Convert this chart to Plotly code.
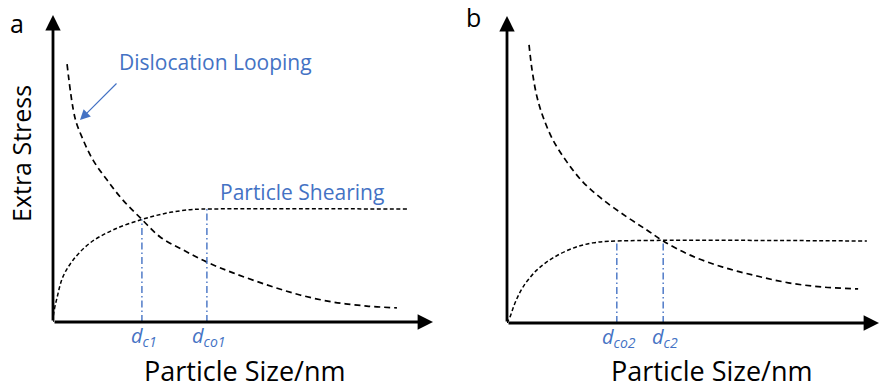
import plotly.graph_objects as go

W, H = 880, 392
BLUE = "#4472C4"
FONT = "Open Sans"

# ---- panel a: strengthening mechanisms vs particle size ----
loop_a_x = [0.37, 0.58, 0.76, 1.05, 1.42, 1.84, 2.34, 2.82, 3.42, 4.05, 4.74, 5.63, 6.50, 7.37, 8.26, 9.05]
loop_a_y = [8.40, 6.64, 6.03, 5.28, 4.63, 3.97, 3.34, 2.77, 2.35, 1.95, 1.60, 1.21, 0.88, 0.65, 0.52, 0.46]
shear_a_x = [0.0, 0.02, 0.11, 0.26, 0.53, 0.97, 1.58, 2.34, 3.00, 3.61, 4.05, 9.32]
shear_a_y = [0.0, 0.30, 0.81, 1.47, 2.02, 2.57, 3.00, 3.34, 3.55, 3.66, 3.68, 3.68]
crit_a = [2.34, 4.05]          # d_c1, d_co1
crit_a_y = [3.34, 3.68]
crit_a_lbl = ["<i>d<sub>c1</sub></i>", "<i>d<sub>co1</sub></i>"]

# ---- panel b ----
loop_b_x = [0.58, 0.66, 0.79, 0.95, 1.21, 1.58, 2.00, 2.53, 3.16, 3.68, 4.11, 4.82, 5.68, 6.58, 7.45, 8.32, 9.24]
loop_b_y = [9.06, 8.24, 7.36, 6.71, 5.96, 5.24, 4.59, 4.01, 3.45, 3.03, 2.67, 2.21, 1.82, 1.53, 1.30, 1.17, 1.11]
shear_b_x = [0.0, 0.03, 0.08, 0.21, 0.42, 0.79, 1.21, 1.74, 2.26, 2.89, 9.47]
shear_b_y = [0.0, 0.07, 0.20, 0.65, 1.17, 1.73, 2.12, 2.44, 2.61, 2.67, 2.67]
crit_b = [2.89, 4.11]          # d_co2, d_c2
crit_b_y = [2.67, 2.67]
crit_b_lbl = ["<i>d<sub>co2</sub></i>", "<i>d<sub>c2</sub></i>"]

x_title = "Particle Size/nm"
y_title = "Extra Stress"

# axis placement in pixels (origin and arrow tips)
PANELS = {
    "a": dict(x0=53, x1=433, y0=322, y1=15, xr=10.0),
    "b": dict(x0=507, x1=879, y0=323, y1=16, xr=372 / 38),
}

def px(v):
    return v / W

def py(v):
    return 1 - v / H

fig = go.Figure()
annotations = []

def add_panel(key, xa, ya, lx, ly, sx, sy, cx, cy, clbl):
    p = PANELS[key]
    xref, yref = xa.replace("axis", ""), ya.replace("axis", "")
    fig.add_trace(go.Scatter(x=lx, y=ly, mode="lines", line_shape="spline",
                             line=dict(color="black", width=1.7, dash="6px,4px"),
                             xaxis=xref, yaxis=yref, hoverinfo="skip"))
    fig.add_trace(go.Scatter(x=sx, y=sy, mode="lines", line_shape="spline",
                             line=dict(color="black", width=1.5, dash="4px,2.5px"),
                             xaxis=xref, yaxis=yref, hoverinfo="skip"))
    for xv, yv, lbl in zip(cx, cy, clbl):
        fig.add_trace(go.Scatter(x=[xv, xv], y=[0, yv], mode="lines",
                                 line=dict(color=BLUE, width=1.4, dash="7px,3px,1.5px,3px"),
                                 xaxis=xref, yaxis=yref, hoverinfo="skip"))
        annotations.append(dict(x=xv, y=0, xref=xref, yref=yref, text=lbl,
                                showarrow=False, xanchor="center", yanchor="top",
                                yshift=1, xshift=2, borderpad=0,
                                font=dict(family=FONT, size=20, color=BLUE)))
    # axes with arrowheads
    for hx, hy in ((p["xr"], 0), (0, 10)):
        annotations.append(dict(x=hx, y=hy, ax=0, ay=0, xref=xref, yref=yref,
                                axref=xref, ayref=yref, text="", showarrow=True,
                                arrowhead=2, arrowsize=1.1, arrowwidth=2.8,
                                arrowcolor="black", standoff=0, startstandoff=0))
    fig.layout[xa] = dict(domain=[px(p["x0"]), px(p["x1"])], range=[0, p["xr"]],
                          visible=False, fixedrange=True, anchor=yref)
    fig.layout[ya] = dict(domain=[py(p["y0"]), py(p["y1"])], range=[0, 10],
                          visible=False, fixedrange=True, anchor=xref)


add_panel("a", "xaxis", "yaxis", loop_a_x, loop_a_y, shear_a_x, shear_a_y,
          crit_a, crit_a_y, crit_a_lbl)
add_panel("b", "xaxis2", "yaxis2", loop_b_x, loop_b_y, shear_b_x, shear_b_y,
          crit_b, crit_b_y, crit_b_lbl)


def label(x, y, text, size, color="black", angle=0):
    return dict(x=px(x), y=py(y), xref="paper", yref="paper", text=text,
                showarrow=False, xanchor="center", yanchor="middle", textangle=angle,
                borderpad=0, font=dict(family=FONT, size=size, color=color))


# panel letters and titles
annotations += [
    label(17, 23, "a", 25),
    label(473, 17, "b", 25),
    label(245, 370, x_title, 27),
    label(712, 370, x_title, 27),
    label(21, 154, y_title, 25, angle=-90),
    label(215, 62, "Dislocation Looping", 21, BLUE),
    label(302, 192, "Particle Shearing", 21, BLUE),
    # pointer to the looping curve
    dict(x=px(80), y=py(120), ax=38, ay=-38, xref="paper", yref="paper",
         axref="pixel", ayref="pixel", text="", showarrow=True, arrowhead=2,
         arrowsize=1.7, arrowwidth=1.2, arrowcolor=BLUE, standoff=0),
]

fig.update_layout(width=W, height=H, margin=dict(l=0, r=0, t=0, b=0),
                  paper_bgcolor="white", plot_bgcolor="white", showlegend=False,
                  annotations=annotations)

fig.write_html("out.html", config={"displayModeBar": False})
